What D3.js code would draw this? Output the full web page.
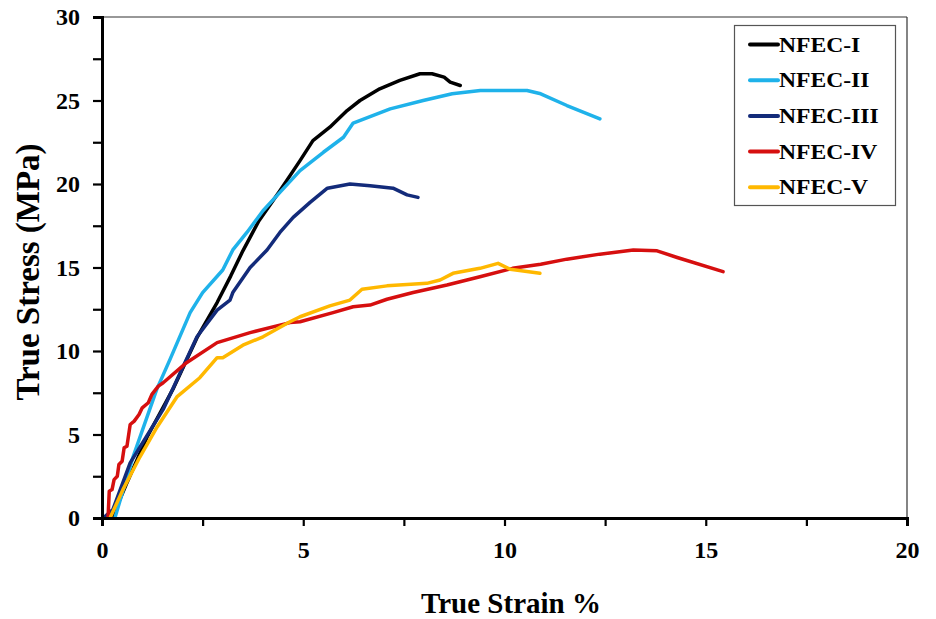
<!DOCTYPE html>
<html>
<head>
<meta charset="utf-8">
<script src="https://cdnjs.cloudflare.com/ajax/libs/d3/7.8.5/d3.min.js"></script>
<style>
  html, body { margin: 0; padding: 0; background: #fff; }
</style>
</head>
<body>
<svg id="chart" width="936" height="619" style="font-family:'Liberation Serif';font-weight:bold"></svg>
<script>
// True strain (%) and true stress (MPa) for each composite
const seriesNames = ["NFEC-I", "NFEC-II", "NFEC-III", "NFEC-IV", "NFEC-V"];
const seriesColors = ["#000000", "#1fb2ea", "#132b7a", "#d60f0f", "#ffb800"];

const strainI = [0.25, 0.6, 1.12, 1.76, 2.36, 2.86, 3.2, 3.5, 3.9, 4.42, 4.92, 5.24, 5.66, 6.09, 6.41, 6.9, 7.4, 7.9, 8.2, 8.5, 8.65, 8.9];
const stressI = [0, 2.0, 4.85, 7.7, 10.8, 12.9, 14.5, 16.0, 17.8, 19.6, 21.4, 22.6, 23.4, 24.4, 25.0, 25.7, 26.2, 26.6, 26.6, 26.4, 26.1, 25.9];

const strainII = [0.32, 0.77, 1.36, 1.69, 2.19, 2.5, 3.0, 3.25, 3.6, 4.0, 4.42, 4.92, 5.5, 6.0, 6.24, 7.16, 7.98, 8.7, 9.4, 10.56, 10.9, 11.55, 12.37];
const stressII = [0, 3.65, 7.7, 9.5, 12.3, 13.5, 14.85, 16.05, 17.1, 18.4, 19.5, 20.8, 21.9, 22.8, 23.65, 24.5, 25.0, 25.4, 25.6, 25.6, 25.4, 24.7, 23.9];

const strainIII = [0.03, 0.27, 0.7, 1.52, 2.36, 2.86, 3.18, 3.25, 3.68, 4.1, 4.42, 4.75, 5.17, 5.6, 6.16, 6.66, 7.23, 7.58, 7.85];
const stressIII = [0, 0.5, 3.3, 6.5, 10.85, 12.45, 13.05, 13.5, 15.0, 16.05, 17.1, 18.0, 18.9, 19.75, 20.0, 19.9, 19.75, 19.35, 19.2];

const strainIV = [0.15, 0.18, 0.25, 0.3, 0.38, 0.42, 0.5, 0.55, 0.62, 0.7, 0.8, 0.92, 1.0, 1.15, 1.24, 1.4, 1.52, 2.1, 2.86, 3.68, 4.67, 4.92, 5.74, 6.24, 6.66, 7.08, 7.73, 8.57, 9.39, 10.2, 10.9, 11.55, 12.37, 13.2, 13.79, 14.29, 15.43];
const stressIV = [0, 1.6, 1.7, 2.3, 2.5, 3.2, 3.4, 4.2, 4.3, 5.6, 5.8, 6.2, 6.6, 6.9, 7.4, 7.9, 8.1, 9.3, 10.5, 11.1, 11.7, 11.75, 12.3, 12.65, 12.75, 13.1, 13.5, 13.95, 14.45, 14.95, 15.2, 15.5, 15.8, 16.05, 16.0, 15.6, 14.75];

const strainV = [0.2, 0.52, 0.94, 1.37, 1.86, 2.43, 2.86, 3.0, 3.5, 4.0, 4.67, 4.92, 5.66, 6.16, 6.46, 7.08, 8.07, 8.4, 8.72, 9.39, 9.84, 10.14, 10.88];
const stressV = [0, 1.7, 3.65, 5.45, 7.25, 8.4, 9.6, 9.6, 10.35, 10.85, 11.75, 12.05, 12.7, 13.05, 13.7, 13.9, 14.05, 14.25, 14.65, 14.95, 15.25, 14.9, 14.65];

const xTickLabels = [0, 5, 10, 15, 20];
const yTickLabels = [0, 5, 10, 15, 20, 25, 30];

const strains = [strainI, strainII, strainIII, strainIV, strainV];
const stresses = [stressI, stressII, stressIII, stressIV, stressV];

const FONT = "Liberation Serif";

const svg = d3.select("#chart");
const plot = { left: 102, right: 907, top: 17, bottom: 518 };

const x = d3.scaleLinear().domain([0, 20]).range([plot.left, plot.right]);
const y = d3.scaleLinear().domain([0, 30]).range([plot.bottom, plot.top]);

// thin frame on the top and right of the plot area
svg.append("line").attr("x1", plot.left).attr("x2", plot.right)
  .attr("y1", plot.top).attr("y2", plot.top)
  .attr("stroke", "#333").attr("stroke-width", 1.2);
svg.append("line").attr("x1", plot.right).attr("x2", plot.right)
  .attr("y1", plot.top).attr("y2", plot.bottom)
  .attr("stroke", "#333").attr("stroke-width", 1.2);

// curves
const line = d3.line().x(d => x(d[0])).y(d => y(d[1]));
seriesNames.forEach((name, i) => {
  const pts = strains[i].map((s, k) => [s, stresses[i][k]]);
  svg.append("path")
    .datum(pts)
    .attr("d", line)
    .attr("fill", "none")
    .attr("stroke", seriesColors[i])
    .attr("stroke-width", 3.5)
    .attr("stroke-linejoin", "round")
    .attr("stroke-linecap", "round");
});

// axes with ticks every 2.5, labels at the named values
const xAxis = d3.axisBottom(x).tickValues(d3.range(0, 20.01, 2.5)).tickSize(8)
  .tickFormat(d => xTickLabels.includes(d) ? d : "");
const yAxis = d3.axisLeft(y).tickValues(d3.range(0, 30.01, 2.5)).tickSize(9)
  .tickFormat(d => yTickLabels.includes(d) ? d : "");

const gx = svg.append("g").attr("transform", `translate(0,${plot.bottom})`).call(xAxis);
const gy = svg.append("g").attr("transform", `translate(${plot.left},0)`).call(yAxis);

[gx, gy].forEach(g => {
  g.attr("font-family", FONT).attr("font-size", 24).attr("font-weight", "bold");
  g.select(".domain").attr("stroke", "#000").attr("stroke-width", 3);
  g.selectAll(".tick line").attr("stroke", "#000").attr("stroke-width", 2.2);
  g.selectAll(".tick text").attr("fill", "#000");
});
gx.selectAll(".tick text").attr("dy", "0").attr("y", 40);
gy.selectAll(".tick text").attr("x", -22).attr("dy", "0.33em");

// axis titles
svg.append("text")
  .attr("x", 511).attr("y", 613)
  .attr("text-anchor", "middle")
  .attr("font-family", FONT).attr("font-weight", "bold").attr("font-size", 29)
  .text("True Strain %");
svg.append("text")
  .attr("transform", "translate(39,272) rotate(-90)")
  .attr("text-anchor", "middle")
  .attr("font-family", FONT).attr("font-weight", "bold").attr("font-size", 33)
  .text("True Stress (MPa)");

// legend
const lg = svg.append("g");
lg.append("rect").attr("x", 734.5).attr("y", 25.5).attr("width", 161).attr("height", 180)
  .attr("fill", "#fff").attr("stroke", "#555").attr("stroke-width", 1.2);
seriesNames.forEach((name, i) => {
  const yy = 44.5 + i * 35.7;
  lg.append("line").attr("x1", 750).attr("x2", 778).attr("y1", yy).attr("y2", yy)
    .attr("stroke", seriesColors[i]).attr("stroke-width", 4).attr("stroke-linecap", "round");
  lg.append("text")
    .attr("transform", `translate(779,${yy}) scale(1.18,1)`)
    .attr("dy", "0.35em")
    .attr("font-family", FONT).attr("font-weight", "bold").attr("font-size", 20)
    .text(name);
});
</script>
</body>
</html>
